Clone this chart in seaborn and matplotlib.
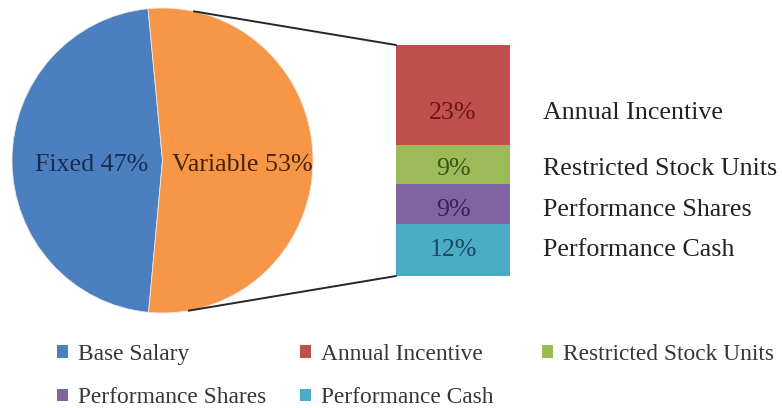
import matplotlib
matplotlib.use("Agg")
import matplotlib.pyplot as plt
from matplotlib.patches import ConnectionPatch, Patch
import numpy as np
import seaborn as sns

# ---- data ----
pie_labels = ["Fixed", "Variable"]
pie_values = [47, 53]
bar_categories = ["Performance Cash", "Performance Shares", "Restricted Stock Units", "Annual Incentive"]  # bottom -> top
bar_values = [12, 9, 9, 23]
legend_labels = ["Base Salary", "Annual Incentive", "Restricted Stock Units",
                 "Performance Shares", "Performance Cash"]

# ---- styles ----
pie_colors = ["#4c7fbf", "#f79646"]
pie_text_colors = ["#1a2d50", "#472406"]
pie_label_shift = [(0.03, -0.028), (0.03, -0.028)]
seg_colors = {"Base Salary": "#4c7fbf", "Annual Incentive": "#c0504d",
              "Restricted Stock Units": "#9bbb59", "Performance Shares": "#8064a2",
              "Performance Cash": "#4bacc6"}
seg_text_colors = {"Annual Incentive": "#681917", "Restricted Stock Units": "#37561a",
                   "Performance Shares": "#32225a", "Performance Cash": "#194a5a"}
label_offsets = {"Annual Incentive": -4.1, "Restricted Stock Units": -1.0,
                 "Performance Shares": -1.25, "Performance Cash": 0.0}

sns.set_theme(style="white")
plt.rcParams["font.family"] = ["Liberation Serif", "DejaVu Serif"]

W, H = 782, 408
fig = plt.figure(figsize=(W / 100, H / 100), dpi=100)
fig.patch.set_facecolor("white")


def box(x0, y0, x1, y1):
    return [x0 / W, 1 - y1 / H, (x1 - x0) / W, (y1 - y0) / H]


# ---- pie ----
ax_pie = fig.add_axes(box(12, 8, 313, 313))
wedges, texts = ax_pie.pie(
    pie_values,
    labels=[f"{l} {v}%" for l, v in zip(pie_labels, pie_values)],
    colors=pie_colors, startangle=95.5, counterclock=True, labeldistance=0.5,
    wedgeprops=dict(edgecolor="#e8e8e8", linewidth=0.6),
    textprops=dict(fontsize=18.7))
for t, c, (dx, dy) in zip(texts, pie_text_colors, pie_label_shift):
    x, y = t.get_position()
    t.set_position((x + dx, y + dy))
    t.set_ha("center")
    t.set_va("center")
    t.set_color(c)
for w in wedges:
    w.set_clip_on(False)
ax_pie.set_xlim(-1, 1)
ax_pie.set_ylim(-1, 1)
ax_pie.set_aspect("auto")
ax_pie.axis("off")

# ---- stacked bar ----
total = sum(bar_values)
ax_bar = fig.add_axes(box(396, 45, 510, 276))
bottom = 0
for cat, val in zip(bar_categories, bar_values):
    sns.barplot(x=["Variable"], y=[val], bottom=bottom, color=seg_colors[cat],
                saturation=1, width=1, ax=ax_bar, edgecolor="none", linewidth=0)
    ymid = bottom + val / 2 + label_offsets.get(cat, 0)
    ax_bar.text(0, ymid, f"{val}%", ha="center", va="center", fontsize=18.7,
                color=seg_text_colors[cat])
    ax_bar.annotate(cat, xy=(0.5, ymid), xycoords="data", xytext=(33, 0),
                    textcoords="offset pixels", ha="left", va="center",
                    fontsize=18.7, color="#222222", annotation_clip=False)
    bottom += val
ax_bar.set_xlim(-0.5, 0.5)
ax_bar.set_ylim(0, total)
ax_bar.axis("off")

# ---- connector lines ----
for ang, yb in [(78, total), (-80, 0)]:
    a = np.deg2rad(ang)
    con = ConnectionPatch(xyA=(np.cos(a), np.sin(a)), coordsA=ax_pie.transData,
                          xyB=(-0.5, yb), coordsB=ax_bar.transData,
                          color="#262626", lw=1.4)
    fig.add_artist(con)

# ---- legend (three columns) ----
columns = [(57, ["Base Salary", "Performance Shares"]),
           (300, ["Annual Incentive", "Performance Cash"]),
           (542, ["Restricted Stock Units"])]
for x0, labs in columns:
    handles = [Patch(facecolor=seg_colors[l], edgecolor="none") for l in labs]
    fig.legend(handles, labs, loc="upper left",
               bbox_to_anchor=(x0 / W, 1 - 344 / H), frameon=False,
               fontsize=16.8, handlelength=0.45, handleheight=0.45,
               handletextpad=0.47, labelspacing=0.96, borderpad=0,
               borderaxespad=0, labelcolor="#363636")

fig.savefig("out.png", dpi=100, facecolor="white")
